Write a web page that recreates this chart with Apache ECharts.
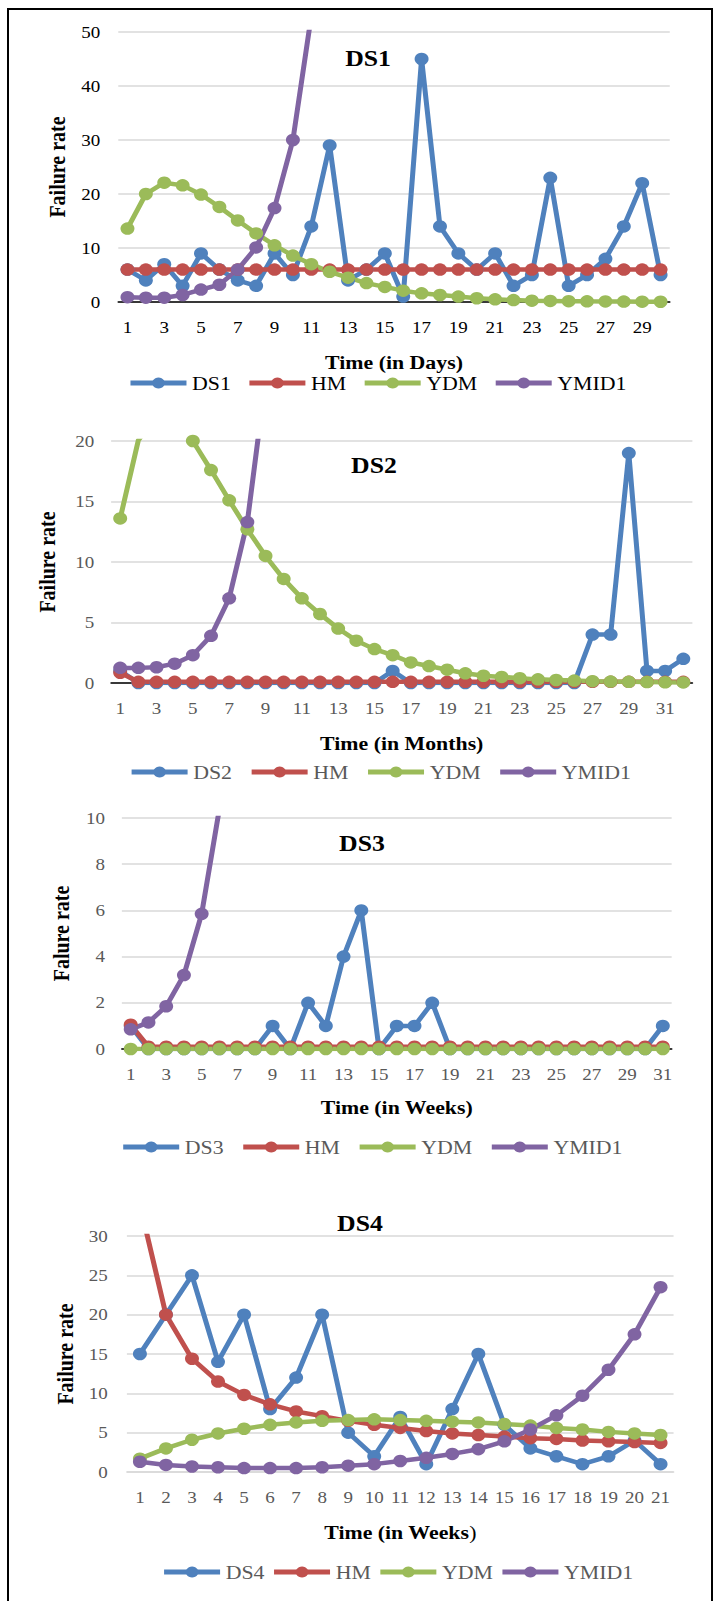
<!DOCTYPE html>
<html>
<head>
<meta charset="utf-8">
<script src="https://cdn.jsdelivr.net/npm/echarts@6/dist/echarts.min.js"></script>
<style>
html,body{margin:0;padding:0;background:#fff;overflow:hidden;}
#c{position:absolute;left:0;top:0;width:640.18px;height:1601px;transform:scaleX(1.12);transform-origin:0 0;}
#frame{position:absolute;left:7px;top:8px;width:702px;height:1620px;border:2px solid #000;pointer-events:none;}
</style>
</head>
<body>
<div id="c"></div>
<div id="frame"></div>
<script>
// ---------- categories ----------
const days30 = ['1','2','3','4','5','6','7','8','9','10','11','12','13','14','15','16','17','18','19','20','21','22','23','24','25','26','27','28','29','30'];
const months32 = ['1','2','3','4','5','6','7','8','9','10','11','12','13','14','15','16','17','18','19','20','21','22','23','24','25','26','27','28','29','30','31','32'];
const weeks31 = ['1','2','3','4','5','6','7','8','9','10','11','12','13','14','15','16','17','18','19','20','21','22','23','24','25','26','27','28','29','30','31'];
const weeks21 = ['1','2','3','4','5','6','7','8','9','10','11','12','13','14','15','16','17','18','19','20','21'];

// ---------- DS1 (days) ----------
const ds1Actual = [6,4,7,3,9,6,4,3,9,5,14,29,4,6,9,1,45,14,9,6,9,3,5,23,3,5,8,14,22,5];
const ds1HM     = [6,6,6,6,6,6,6,6,6,6,6,6,6,6,6,6,6,6,6,6,6,6,6,6,6,6,6,6,6,6];
const ds1YDM    = [13.6,20.0,22.1,21.6,19.9,17.6,15.1,12.7,10.5,8.6,7.0,5.6,4.5,3.5,2.8,2.1,1.6,1.3,1.0,0.7,0.5,0.35,0.25,0.2,0.15,0.12,0.1,0.08,0.06,0.05];
const ds1YMID1  = [0.9,0.8,0.8,1.3,2.3,3.2,6.0,10.1,17.4,30.0,53.0,null,null,null,null,null,null,null,null,null,null,null,null,null,null,null,null,null,null,null];

// ---------- DS2 (months) ----------
const ds2Actual = [1,0,0,0,0,0,0,0,0,0,0,0,0,0,0,1,0,0,0,0,0,0,0,0,0,0,4,4,19,1,1,2];
const ds2HM     = [0.85,0.1,0.1,0.1,0.1,0.1,0.1,0.1,0.1,0.1,0.1,0.1,0.1,0.1,0.1,0.1,0.1,0.1,0.1,0.1,0.1,0.1,0.1,0.1,0.1,0.1,0.1,0.1,0.1,0.1,0.1,0.1];
const ds2YDM    = [13.6,20.06,22.1,21.6,20.0,17.6,15.1,12.7,10.5,8.6,7.0,5.7,4.5,3.5,2.8,2.3,1.7,1.4,1.1,0.8,0.6,0.5,0.4,0.3,0.25,0.2,0.15,0.12,0.1,0.08,0.06,0.05];
const ds2YMID1  = [1.25,1.25,1.3,1.6,2.3,3.9,7.0,13.3,25.0,null,null,null,null,null,null,null,null,null,null,null,null,null,null,null,null,null,null,null,null,null,null,null];

// ---------- DS3 (weeks) ----------
const ds3Actual = [1,0,0,0,0,0,0,0,1,0,2,1,4,6,0,1,1,2,0,0,0,0,0,0,0,0,0,0,0,0,1];
const ds3HM     = [1.05,0.1,0.1,0.1,0.1,0.1,0.1,0.1,0.1,0.1,0.1,0.1,0.1,0.1,0.1,0.1,0.1,0.1,0.1,0.1,0.1,0.1,0.1,0.1,0.1,0.1,0.1,0.1,0.1,0.1,0.1];
const ds3YDM    = [0,0,0,0,0,0,0,0,0,0,0,0,0,0,0,0,0,0,0,0,0,0,0,0,0,0,0,0,0,0,0];
const ds3YMID1  = [0.85,1.15,1.85,3.2,5.85,10.4,null,null,null,null,null,null,null,null,null,null,null,null,null,null,null,null,null,null,null,null,null,null,null,null,null];

// ---------- DS4 (weeks) ----------
const ds4Actual = [15,20,25,14,20,8,12,20,5,2,7,1,8,15,6,3,2,1,2,4,1];
const ds4HM     = [34,20,14.4,11.5,9.8,8.6,7.7,7.1,6.5,6.0,5.6,5.2,4.9,4.7,4.5,4.3,4.2,4.0,3.9,3.8,3.7];
const ds4YDM    = [1.7,3.0,4.1,4.9,5.5,6.0,6.3,6.5,6.6,6.7,6.6,6.5,6.4,6.3,6.1,5.9,5.6,5.4,5.1,4.9,4.7];
const ds4YMID1  = [1.3,0.9,0.7,0.6,0.5,0.5,0.5,0.6,0.8,1.0,1.4,1.8,2.3,2.9,3.9,5.4,7.2,9.7,13.0,17.5,23.5];

// ---------- tick settings ----------
const yMax = [50, 20, 10, 30];
const yStep = [10, 5, 2, 5];

const FONT = '"Liberation Serif", "Times New Roman", serif';
const COLORS = {ds:'#4F81BD', hm:'#C0504D', ydm:'#9BBB59', ymid:'#8064A2'};

// the reference picture is slightly stretched horizontally; the page is drawn
// on a narrower canvas and stretched by the same factor (see CSS)
const panels = [
  {title:'DS1', tx:328.6, ty:58, grid:{left:105.6, width:492.4, top:32, height:270},
   cats:days30, xName:'Time (in Days)', yName:'Failure rate', labInt:1, nameGap:50.5, yGap:44.5, yMargin:16,
   series:[ds1Actual, ds1HM, ds1YDM, ds1YMID1], legendLeft:114, legendY:383, legendGap:14,
   tick:'#000', legendColor:'#000', axisLine:'#000'},
  {title:'DS2', tx:333.9, ty:465, grid:{left:99.2, width:519, top:441, height:242},
   cats:months32, xName:'Time (in Months)', yName:'Failure rate', labInt:1, nameGap:50, yGap:46.5, yMargin:15,
   series:[ds2Actual, ds2HM, ds2YDM, ds2YMID1], legendLeft:115, legendY:772, legendGap:15,
   tick:'#595959', legendColor:'#595959', axisLine:'#000'},
  {title:'DS3', tx:323.2, ty:843, grid:{left:108.8, width:490.9, top:818, height:231},
   cats:weeks31, xName:'Time (in Weeks)', yName:'Falure rate', labInt:1, nameGap:48.5, yGap:43.5, yMargin:15,
   series:[ds3Actual, ds3HM, ds3YDM, ds3YMID1], legendLeft:107.5, legendY:1147, legendGap:15,
   tick:'#595959', legendColor:'#595959', axisLine:'#000'},
  {title:'DS4', tx:321.4, ty:1223, grid:{left:113.3, width:488.1, top:1236, height:236},
   cats:weeks21, xName:'{b|Time (in Weeks}{r|)}', yName:'Failure rate', labInt:0, nameGap:50.5, yGap:43, yMargin:17,
   series:[ds4Actual, ds4HM, ds4YDM, ds4YMID1], legendLeft:144, legendY:1572, legendGap:6,
   tick:'#595959', legendColor:'#595959', axisLine:'#d9d9d9'}
];

const option = {
  animation:false,
  backgroundColor:'#fff',
  textStyle:{fontFamily:FONT},
  title:[], legend:[], grid:[], xAxis:[], yAxis:[], series:[]
};

panels.forEach((p, i) => {
  option.title.push({
    text:p.title, left:p.tx, top:p.ty, textAlign:'center', textVerticalAlign:'middle', padding:0,
    textStyle:{fontFamily:FONT, fontSize:23, fontWeight:'bold', color:'#000'}
  });
  option.grid.push(Object.assign({containLabel:false}, p.grid));
  option.xAxis.push({
    gridIndex:i, type:'category', data:p.cats, boundaryGap:true,
    axisLine:{show:true, lineStyle:{color:p.axisLine, width:1.5}},
    axisTick:{show:false},
    axisLabel:{interval:p.labInt, margin:17, fontSize:17, color:p.tick, fontFamily:FONT},
    splitLine:{show:false},
    name:p.xName, nameLocation:'middle', nameGap:p.nameGap,
    nameTextStyle:{fontFamily:FONT, fontSize:19.5, fontWeight:'bold', color:'#000',
      rich:{b:{fontFamily:FONT, fontSize:19.5, fontWeight:'bold', color:'#000'},
            r:{fontFamily:FONT, fontSize:19.5, fontWeight:'normal', color:'#000'}}}
  });
  option.yAxis.push({
    gridIndex:i, type:'value', min:0, max:yMax[i], interval:yStep[i],
    axisLine:{show:false}, axisTick:{show:false},
    splitLine:{lineStyle:{color:'#d9d9d9', width:1.5}},
    axisLabel:{margin:p.yMargin, fontSize:17, color:p.tick, fontFamily:FONT},
    name:p.yName, nameLocation:'middle', nameGap:p.yGap, nameRotate:90,
    nameTextStyle:{fontFamily:FONT, fontSize:20, fontWeight:'bold', color:'#000'}
  });
  const names = [p.title, 'HM', 'YDM', 'YMID1'];
  const cols = [COLORS.ds, COLORS.hm, COLORS.ydm, COLORS.ymid];
  option.legend.push({
    data:names, left:p.legendLeft, top:p.legendY - 10, padding:0, orient:'horizontal',
    itemWidth:50, itemHeight:14, itemGap:p.legendGap,
    lineStyle:{width:5},
    textStyle:{fontFamily:FONT, fontSize:19.5, color:p.legendColor}
  });
  p.series.forEach((d, k) => {
    option.series.push({
      name:names[k], type:'line', xAxisIndex:i, yAxisIndex:i, data:d,
      symbol:'circle', symbolSize:12.5, showAllSymbol:true, clip:true, connectNulls:false,
      lineStyle:{color:cols[k], width:4.5},
      itemStyle:{color:cols[k]},
      emphasis:{disabled:true}
    });
  });
});

const chart = echarts.init(document.getElementById('c'), null, {renderer:'svg'});
chart.setOption(option);
</script>
</body>
</html>
